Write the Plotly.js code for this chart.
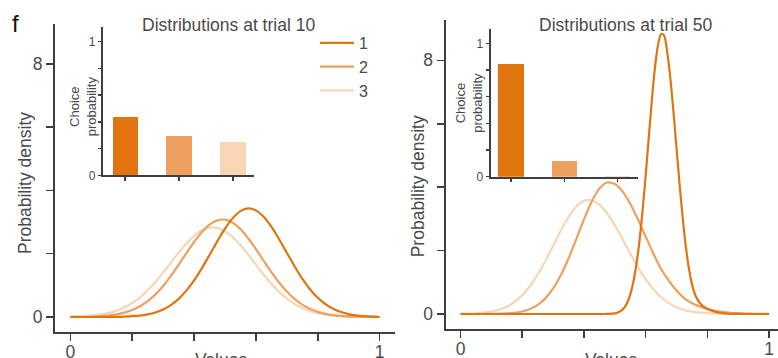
<!DOCTYPE html>
<html><head><meta charset="utf-8">
<script src="https://cdn.plot.ly/plotly-3.0.1.min.js"></script>
<style>html,body{margin:0;padding:0;background:#fff}#chart{width:778px;height:358px}</style>
</head><body><div id="chart"></div><script>
// ---- data ----
const optionNames = ['1', '2', '3'];
const valuesGrid = [0,0.025,0.05,0.075,0.1,0.125,0.15,0.175,0.2,0.225,0.25,0.275,0.3,0.325,0.35,0.375,0.4,0.425,0.45,0.475,0.5,0.525,0.55,0.575,0.6,0.625,0.65,0.675,0.7,0.725,0.75,0.775,0.8,0.825,0.85,0.875,0.9,0.925,0.95,0.975,1];
const trial10Option1 = [0,0,0,0.001,0.001,0.003,0.006,0.013,0.025,0.046,0.084,0.144,0.239,0.378,0.573,0.832,1.156,1.538,1.959,2.39,2.792,3.123,3.344,3.43,3.368,3.166,2.851,2.457,2.028,1.603,1.213,0.879,0.61,0.405,0.258,0.157,0.092,0.051,0.027,0.014,0.007];
const trial10Option2 = [0.002,0.004,0.007,0.014,0.026,0.047,0.082,0.137,0.219,0.338,0.501,0.716,0.982,1.297,1.649,2.015,2.369,2.68,2.916,3.052,3.074,2.978,2.775,2.488,2.146,1.78,1.42,1.091,0.806,0.572,0.391,0.257,0.163,0.099,0.058,0.033,0.018,0.009,0.005,0.002,0.001];
const trial10Option3 = [0.009,0.016,0.028,0.049,0.081,0.13,0.203,0.305,0.443,0.622,0.844,1.107,1.402,1.716,2.031,2.321,2.564,2.737,2.822,2.812,2.709,2.52,2.266,1.969,1.653,1.341,1.051,0.796,0.583,0.412,0.282,0.186,0.119,0.073,0.044,0.025,0.014,0.008,0.004,0.002,0.001];
const trial50Option1Values = [0,0.1,0.2,0.3,0.4,0.45,0.48,0.5,0.51,0.52,0.53,0.54,0.55,0.56,0.57,0.58,0.59,0.6,0.61,0.62,0.63,0.64,0.65,0.66,0.67,0.68,0.69,0.7,0.71,0.72,0.73,0.74,0.75,0.76,0.77,0.78,0.79,0.8,0.81,0.82,0.83,0.84,0.85,0.86,0.87,0.88,0.89,0.9,0.92,0.95,1];
const trial50Option1 = [0,0,0,0,0,0,0.002,0.02,0.05,0.1,0.19,0.35,0.61,1.0,1.56,2.3,3.25,4.35,5.55,6.72,7.75,8.47,8.83,8.78,8.25,7.45,6.4,5.25,4.1,3.05,2.15,1.45,0.95,0.62,0.42,0.3,0.22,0.16,0.12,0.085,0.06,0.04,0.025,0.015,0.008,0.004,0.002,0.001,0,0,0];
const trial50Option2 = [0,0,0,0,0.003,0.007,0.017,0.038,0.079,0.155,0.285,0.493,0.8,1.221,1.75,2.357,2.981,3.542,3.954,4.146,4.102,3.868,3.479,2.986,2.444,1.908,1.42,1.05,0.74,0.5,0.34,0.24,0.16,0.1,0.065,0.04,0.025,0.015,0.008,0.004,0.002];
const trial50Option3 = [0.004,0.009,0.02,0.039,0.074,0.134,0.23,0.378,0.589,0.876,1.24,1.671,2.145,2.622,3.051,3.381,3.568,3.587,3.45,3.177,2.801,2.365,1.912,1.48,1.097,0.779,0.529,0.344,0.215,0.128,0.073,0.045,0.027,0.016,0.01,0.006,0.004,0.002,0.001,0.001,0];
const choiceTrial10 = [0.435, 0.292, 0.25];
const choiceTrial50 = [0.848, 0.115, 0.006];
const xTickVals = [0, 0.2, 0.4, 0.6, 0.8, 1];
const xTickText = ['0', '', '', '', '', '1'];
const yTickVals = [0, 2, 4, 6, 8];
const yTickText = ['0', '', '', '', '8'];
const insetTickVals = [0, 0.2, 0.4, 0.6, 0.8, 1];
const insetTickText = ['0', '', '', '', '', '1'];

// ---- styling ----
const W = 778, H = 358;
const fx = p => p / W, fy = p => (H - p) / H;
const FONT = 'Liberation Sans, Arial, Helvetica, sans-serif';
const AX = '#3f3f3f', TXT = '#4a4a4a';
const colors = ['#E1740F', '#EDA05F', '#F8D5B5'];

const traces = [];
const t10 = [trial10Option1, trial10Option2, trial10Option3];
const t50 = [trial50Option1, trial50Option2, trial50Option3];
for (let i = 2; i >= 0; i--) {
  traces.push({type: 'scatter', mode: 'lines', x: valuesGrid, y: t10[i], xaxis: 'x', yaxis: 'y',
    name: optionNames[i], legendrank: i + 1, showlegend: true,
    line: {color: colors[i], width: 2.2, shape: 'spline', smoothing: 1}, hoverinfo: 'skip'});
}
for (let i = 2; i >= 0; i--) {
  traces.push({type: 'scatter', mode: 'lines', x: i === 0 ? trial50Option1Values : valuesGrid, y: t50[i],
    xaxis: 'x2', yaxis: 'y2', name: optionNames[i], showlegend: false,
    line: {color: colors[i], width: 2.2, shape: 'spline', smoothing: 0.8}, hoverinfo: 'skip'});
}
traces.push({type: 'bar', x: optionNames, y: choiceTrial10, xaxis: 'x3', yaxis: 'y3', width: 0.47,
  marker: {color: colors, line: {width: 0}}, showlegend: false, hoverinfo: 'skip'});
traces.push({type: 'bar', x: optionNames, y: choiceTrial50, xaxis: 'x4', yaxis: 'y4', width: 0.47,
  marker: {color: colors, line: {width: 0}}, showlegend: false, hoverinfo: 'skip'});

const mainAxis = {showline: true, linecolor: AX, linewidth: 2, ticks: 'outside', ticklen: 7, tickwidth: 1.6,
  tickcolor: AX, showgrid: false, zeroline: false, tickfont: {family: FONT, size: 17.5, color: TXT}, fixedrange: true};
const insetAxis = {showline: true, linecolor: AX, linewidth: 2, ticks: 'outside', ticklen: 3.5, tickwidth: 1.5,
  tickcolor: AX, showgrid: false, zeroline: false, tickfont: {family: FONT, size: 12, color: TXT}, fixedrange: true};

const ann = (text, x, y, size, opts) => Object.assign({text, x: fx(x), y: fy(y), xref: 'paper', yref: 'paper',
  showarrow: false, xanchor: 'center', yanchor: 'middle', font: {family: FONT, size, color: TXT}}, opts || {});

const layout = {
  width: W, height: H, margin: {l: 0, r: 0, t: 0, b: 0},
  paper_bgcolor: '#fff', plot_bgcolor: 'rgba(0,0,0,0)', font: {family: FONT, color: TXT},
  bargap: 0,
  xaxis: Object.assign({}, mainAxis, {domain: [fx(55), fx(395)], range: [-0.05, 1.05], anchor: 'y', tickvals: xTickVals, ticktext: xTickText, ticklabelstandoff: -4}),
  yaxis: Object.assign({}, mainAxis, {domain: [fy(331.7), fy(24)], range: [-0.464, 9.254], anchor: 'x', tickvals: yTickVals, ticktext: yTickText}),
  xaxis2: Object.assign({}, mainAxis, {domain: [fx(445.5), 1], range: [-0.0486, 1.029], anchor: 'y2', tickvals: xTickVals, ticktext: xTickText, ticklabelstandoff: -4}),
  yaxis2: Object.assign({}, mainAxis, {domain: [fy(329), fy(20)], range: [-0.473, 9.271], anchor: 'x2', tickvals: yTickVals, ticktext: yTickText}),
  xaxis3: Object.assign({}, insetAxis, {domain: [fx(103.3), fx(254)], range: [-0.407, 2.39], anchor: 'y3', type: 'category', showticklabels: false}),
  yaxis3: Object.assign({}, insetAxis, {domain: [fy(175.3), fy(27.3)], range: [0, 1.108], anchor: 'x3', tickvals: insetTickVals, ticktext: insetTickText}),
  xaxis4: Object.assign({}, insetAxis, {domain: [fx(491), fx(638.3)], range: [-0.375, 2.39], anchor: 'y4', type: 'category', showticklabels: false}),
  yaxis4: Object.assign({}, insetAxis, {domain: [fy(176.7), fy(29.3)], range: [0, 1.105], anchor: 'x4', tickvals: insetTickVals, ticktext: insetTickText}),
  showlegend: true,
  legend: {x: fx(315), y: fy(26), xanchor: 'left', yanchor: 'top', bgcolor: 'rgba(0,0,0,0)', borderwidth: 0,
    itemwidth: 34, font: {family: FONT, size: 16, color: TXT}, itemclick: false, itemdoubleclick: false},
  annotations: [
    ann('f', 16, 23, 24, {font: {family: FONT, size: 24, color: '#111'}}),
    ann('Distributions at trial 10', 228, 24.5, 17.5),
    ann('Distributions at trial 50', 625, 24.5, 17.5),
    ann('Probability density', 25, 183, 17.5, {textangle: -90}),
    ann('Probability density', 418.3, 186, 17.5, {textangle: -90}),
    ann('Values', 221, 348, 17.5, {yanchor: 'top'}),
    ann('Values', 611, 348, 17.5, {yanchor: 'top'}),
    ann('Choice<br>probability', 83.3, 106, 13, {textangle: -90}),
    ann('Choice<br>probability', 468.7, 103, 13, {textangle: -90})
  ]
};
Plotly.newPlot('chart', traces, layout, {staticPlot: true, displayModeBar: false});
</script></body></html>
